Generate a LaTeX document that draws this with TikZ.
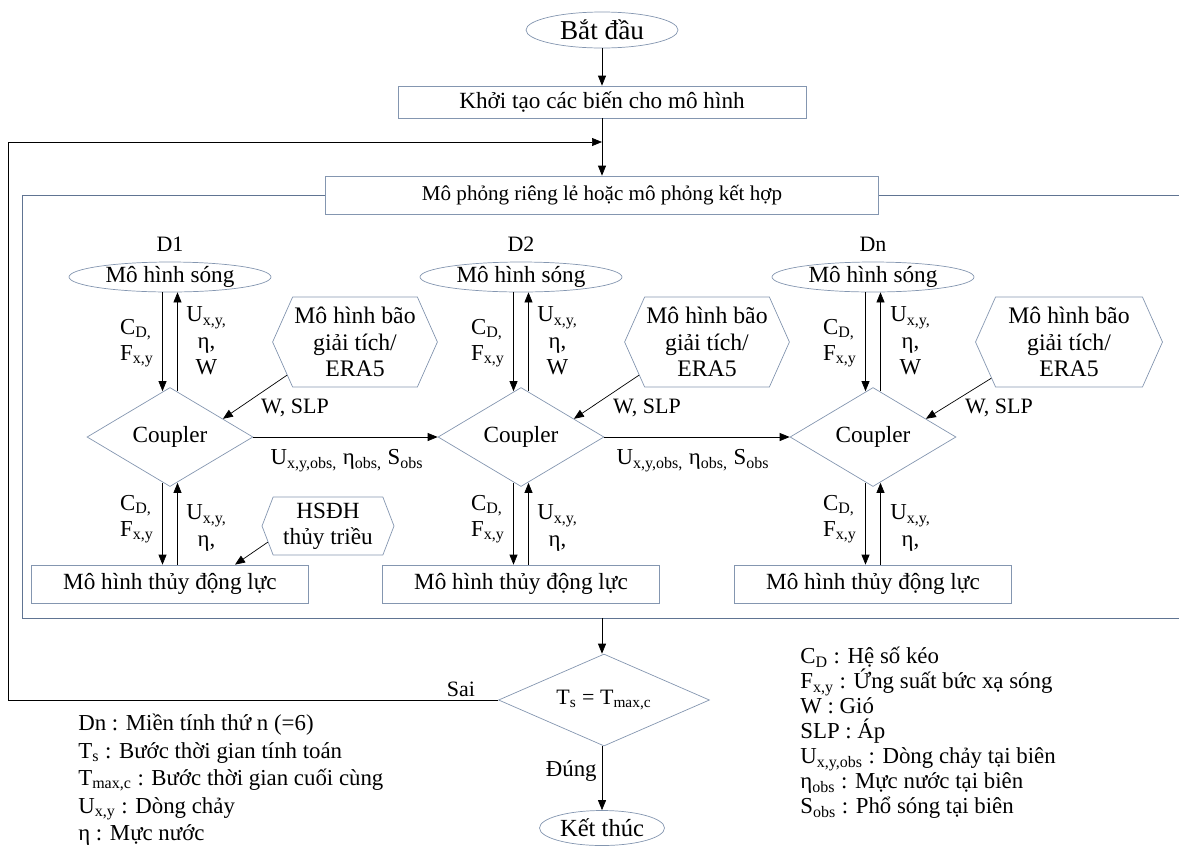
\documentclass[tikz,border=0pt]{standalone}
\usepackage{fontspec}
\setmainfont{Liberation Serif}
\usepackage{xcolor}
\usetikzlibrary{shapes.geometric}
\usetikzlibrary{shapes.symbols}
\usetikzlibrary{arrows.meta}

\definecolor{edge}{RGB}{132,150,176}
\definecolor{frame}{RGB}{96,116,146}
\newcommand{\lo}[1]{\textsubscript{#1}}
\newcommand{\pt}[1]{\fontsize{#1}{15}\selectfont}

\tikzset{
  box/.style={draw=edge, rectangle, inner sep=0pt},
  wave/.style={draw=edge, ellipse, minimum width=4.04cm, minimum height=0.6cm, inner sep=0pt, font=\pt{13.2}},
  coupler/.style={draw=edge, diamond, aspect=1.68, minimum width=3.32cm, minimum height=1.98cm, inner sep=0pt, font=\pt{13.2}},
  storm/.style={draw=edge, signal, signal to=west and east, signal pointer angle=132,
    align=center, inner sep=1pt, minimum height=1.8cm, font=\pt{13.5}},
  hydro/.style={box, minimum width=5.54cm, minimum height=0.76cm, font=\pt{13.2}},
  flow/.style={-{Triangle[length=2mm,width=1.6mm]}},
  lbl/.style={inner sep=0pt},
  legend/.style={align=left, anchor=north west, inner sep=0pt}
}

\begin{document}
\begin{tikzpicture}[x=0.02cm, y=-0.02cm, font=\pt{13}]
  \useasboundingbox (0,0) rectangle (1179,846);

  % start and set-up
  \node[draw=edge, ellipse, minimum width=3.04cm, minimum height=0.72cm, inner sep=0pt, font=\pt{15.5}] (start) at (602,30) {Bắt đầu};
  \node[box, minimum width=8.16cm, minimum height=0.64cm, font=\pt{13.2}] (init) at (602,102) {Khởi tạo các biến cho mô hình};
  \coordinate (join) at (602,142);
  \coordinate (loop) at (8,142);
  \node[box, fill=white, minimum width=11.06cm, minimum height=0.76cm, font=\pt{12}] (sim) at (602,195) {Mô phỏng riêng lẻ hoặc mô phỏng kết hợp};
  \draw[flow] (start) -- (init);
  \draw[flow] (init) -- (sim);

  % frame round the domains
  \draw[frame] (sim.west) -| (22,618) -- (1179,618);
  \draw[frame] (sim.east) -- (1179,195);
  \coordinate (out) at (602,618);

  % domain D1
  \node[font=\pt{12.5}] (d1) at (170,244) {D1};
  \node[wave] (wave1) at (170,277) {Mô hình sóng};
  \node[coupler] (coup1) at (170,437) {Coupler};
  \node[hydro] (hyd1) at (170,584) {Mô hình thủy động lực};
  \node[storm, minimum width=2.94cm] (storm1) at (355,342) {Mô hình bão\\ giải tích/\\ ERA5};
  \node[storm, signal pointer angle=138, minimum width=2.64cm, minimum height=1.16cm, font=\pt{13.2}] (tide1) at (328,526) {HSĐH\\ thủy triều};
  \draw[flow] ([xshift=-0.15cm]wave1.south) -- ([xshift=-0.15cm,yshift=-0.08cm]coup1.north);
  \draw[flow] ([xshift=0.15cm,yshift=-0.08cm]coup1.north) -- ([xshift=0.15cm]wave1.south);
  \draw[flow] ([xshift=-0.15cm,yshift=0.08cm]coup1.south) -- ([xshift=-0.15cm]hyd1.north);
  \draw[flow] ([xshift=0.15cm]hyd1.north) -- ([xshift=0.15cm,yshift=0.08cm]coup1.south);
  \draw[flow] (storm1.206) -- (coup1.19);
  \draw[flow] (tide1.195) -- ([xshift=1.3cm]hyd1.north);
  \node[lbl, align=left, anchor=east] (cd1) at (154,343) {C\lo{D,}\\F\lo{x,y}};
  \node[lbl, align=center, anchor=west] (ux1) at (186,341) {U\lo{x,y,}\\η,\\W};
  \node[lbl, align=left, anchor=east] (cd1b) at (154,519) {C\lo{D,}\\F\lo{x,y}};
  \node[lbl, align=center, anchor=west] (ux1b) at (186,528) {U\lo{x,y,}\\η,};
  \node[lbl, font=\pt{12.5}] (ws1) at (295,408) {W, SLP};

  % domain D2
  \node[font=\pt{12.5}] (d2) at (521,244) {D2};
  \node[wave] (wave2) at (521,277) {Mô hình sóng};
  \node[coupler] (coup2) at (521,437) {Coupler};
  \node[hydro] (hyd2) at (521,584) {Mô hình thủy động lực};
  \node[storm, minimum width=2.92cm] (storm2) at (707,342) {Mô hình bão\\ giải tích/\\ ERA5};
  \draw[flow] ([xshift=-0.15cm]wave2.south) -- ([xshift=-0.15cm,yshift=-0.08cm]coup2.north);
  \draw[flow] ([xshift=0.15cm,yshift=-0.08cm]coup2.north) -- ([xshift=0.15cm]wave2.south);
  \draw[flow] ([xshift=-0.15cm,yshift=0.08cm]coup2.south) -- ([xshift=-0.15cm]hyd2.north);
  \draw[flow] ([xshift=0.15cm]hyd2.north) -- ([xshift=0.15cm,yshift=0.08cm]coup2.south);
  \draw[flow] (storm2.206) -- (coup2.19);
  \node[lbl, align=left, anchor=east] (cd2) at (505,343) {C\lo{D,}\\F\lo{x,y}};
  \node[lbl, align=center, anchor=west] (ux2) at (537,341) {U\lo{x,y,}\\η,\\W};
  \node[lbl, align=left, anchor=east] (cd2b) at (505,519) {C\lo{D,}\\F\lo{x,y}};
  \node[lbl, align=center, anchor=west] (ux2b) at (537,528) {U\lo{x,y,}\\η,};
  \node[lbl, font=\pt{12.5}] (ws2) at (647,408) {W, SLP};

  % domain Dn
  \node[font=\pt{12.5}] (dn) at (873,244) {Dn};
  \node[wave] (wave3) at (873,277) {Mô hình sóng};
  \node[coupler] (coup3) at (873,437) {Coupler};
  \node[hydro] (hyd3) at (873,584) {Mô hình thủy động lực};
  \node[storm, minimum width=3.74cm] (storm3) at (1069,342) {Mô hình bão\\ giải tích/\\ ERA5};
  \draw[flow] ([xshift=-0.15cm]wave3.south) -- ([xshift=-0.15cm,yshift=-0.08cm]coup3.north);
  \draw[flow] ([xshift=0.15cm,yshift=-0.08cm]coup3.north) -- ([xshift=0.15cm]wave3.south);
  \draw[flow] ([xshift=-0.15cm,yshift=0.08cm]coup3.south) -- ([xshift=-0.15cm]hyd3.north);
  \draw[flow] ([xshift=0.15cm]hyd3.north) -- ([xshift=0.15cm,yshift=0.08cm]coup3.south);
  \draw[flow] (storm3.205) -- (coup3.19);
  \node[lbl, align=left, anchor=east] (cd3) at (857,343) {C\lo{D,}\\F\lo{x,y}};
  \node[lbl, align=center, anchor=west] (ux3) at (890,341) {U\lo{x,y,}\\η,\\W};
  \node[lbl, align=left, anchor=east] (cd3b) at (857,519) {C\lo{D,}\\F\lo{x,y}};
  \node[lbl, align=center, anchor=west] (ux3b) at (890,528) {U\lo{x,y,}\\η,};
  \node[lbl, font=\pt{12.5}] (ws3) at (999,408) {W, SLP};

  % boundary exchange
  \draw[flow] (coup1.east) -- (coup2.west);
  \draw[flow] (coup2.east) -- (coup3.west);
  \node[lbl] (obs1) at (347,461) {U\lo{x,y,obs,} η\lo{obs,} S\lo{obs}};
  \node[lbl] (obs2) at (693,461) {U\lo{x,y,obs,} η\lo{obs,} S\lo{obs}};

  % time check
  \node[draw=edge, diamond, aspect=2.4, minimum width=4.22cm, minimum height=1.84cm, inner sep=0pt, font=\pt{12.5}] (dec) at (604,700) {T\lo{s} = T\lo{max,c}};
  \node[draw=edge, ellipse, minimum width=2.5cm, minimum height=0.7cm, inner sep=0pt, font=\pt{14}] (stop) at (602,828) {Kết thúc};
  \draw[flow] (out) -- (out |- dec.north);
  \draw[flow] (dec.south -| out) -- (stop);
  \draw[flow] (dec.west) -| (loop) -- (join);
  \node[lbl, font=\pt{12.5}] (no) at (461,689) {Sai};
  \node[lbl, anchor=east] (yes) at (597,771) {Đúng};

  % legends
  \node[legend, font=\fontsize{13}{15.6}\selectfont] (key1) at (78,714) {Dn : Miền tính thứ n (=6)\\
    T\lo{s} : Bước thời gian tính toán\\
    T\lo{max,c} : Bước thời gian cuối cùng\\
    U\lo{x,y} : Dòng chảy\\
    η : Mực nước};
  \node[legend, font=\fontsize{13}{14.2}\selectfont] (key2) at (800,647) {C\lo{D} : Hệ số kéo\\
    F\lo{x,y} : Ứng suất bức xạ sóng\\
    W : Gió\\
    SLP : Áp\\
    U\lo{x,y,obs} : Dòng chảy tại biên\\
    η\lo{obs} : Mực nước tại biên\\
    S\lo{obs} : Phổ sóng tại biên};
\end{tikzpicture}
\end{document}
